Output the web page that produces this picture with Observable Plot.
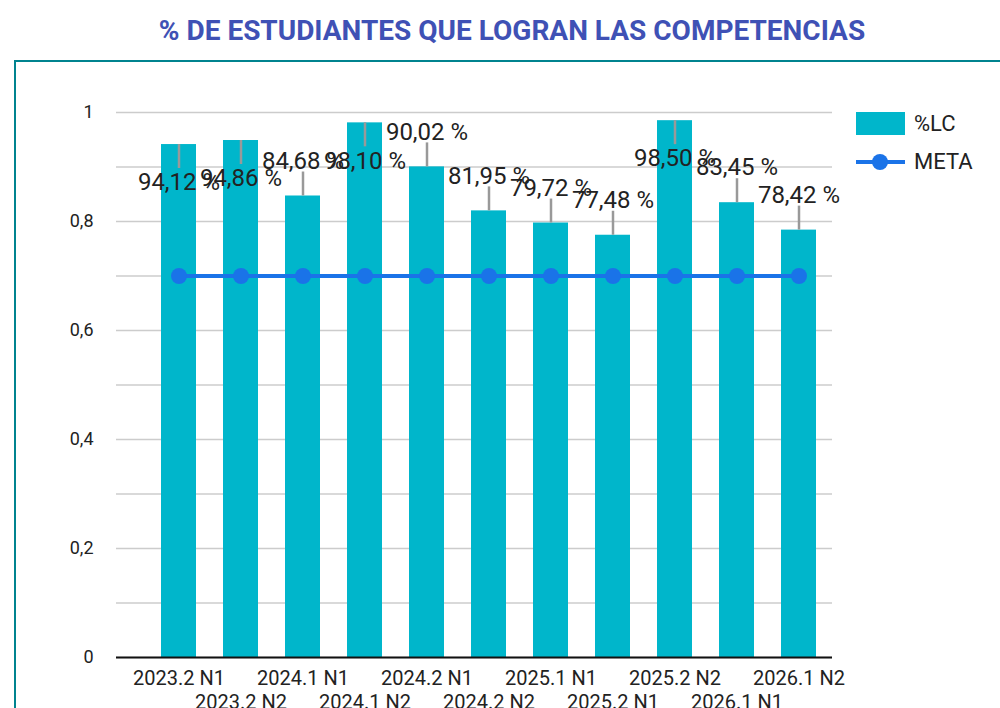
<!DOCTYPE html>
<html>
<head>
<meta charset="utf-8">
<script src="https://cdn.jsdelivr.net/npm/d3@7"></script>
<script src="https://cdn.jsdelivr.net/npm/@observablehq/plot@0.6"></script>
<style>
  html, body { margin: 0; padding: 0; background: #fff; overflow: hidden; }
  body { width: 1000px; height: 708px; position: relative; font-family: Roboto, "Noto Sans", sans-serif; }
  #title { position: absolute; left: 0; width: 1024px; top: 17px; text-align: center; font-weight: 700; font-size: 28px; line-height: 28px; color: #3f51b5; }
  #frame { position: absolute; left: 14px; top: 60px; width: 1100px; height: 800px; border-top: 2px solid #00838f; border-left: 2px solid #00838f; }
  #chart { position: absolute; left: 0; top: 60px; }
  .leg { position: absolute; font-size: 22px; line-height: 22px; color: #222; }
</style>
</head>
<body>
<div id="title">% DE ESTUDIANTES QUE LOGRAN LAS COMPETENCIAS</div>
<div id="frame"></div>
<div id="chart"></div>
<div style="position:absolute;left:856px;top:112px;width:49px;height:23px;background:#00b6cb;"></div>
<div class="leg" style="left:914px;top:113px;">%LC</div>
<div style="position:absolute;left:856px;top:160px;width:49px;height:4px;background:#1a73e8;"></div>
<div style="position:absolute;left:872px;top:154px;width:16px;height:16px;border-radius:50%;background:#1a73e8;"></div>
<div class="leg" style="left:914px;top:151px;">META</div>
<script>
const categories = ["2023.2 N1","2023.2 N2","2024.1 N1","2024.1 N2","2024.2 N1","2024.2 N2","2025.1 N1","2025.2 N1","2025.2 N2","2026.1 N1","2026.1 N2"];
const pctLC = [94.12, 94.86, 84.68, 98.10, 90.02, 81.95, 79.72, 77.48, 98.50, 83.45, 78.42];
const meta = [0.7, 0.7, 0.7, 0.7, 0.7, 0.7, 0.7, 0.7, 0.7, 0.7, 0.7];
const yTicks = [0, 0.2, 0.4, 0.6, 0.8, 1];
const gridTicks = [0, 0.1, 0.2, 0.3, 0.4, 0.5, 0.6, 0.7, 0.8, 0.9, 1];

const LEAD = 0.044;
const rows = categories.map((c, i) => {
  const v = pctLC[i] / 100;
  const down = v > 0.92;
  return {
    cat: c, v, meta: meta[i], i,
    y2: down ? v - LEAD : v + LEAD,
    down,
    label: pctLC[i].toFixed(2).replace(".", ",") + " %"
  };
});
const upRows = rows.filter(d => !d.down);
const downRows = rows.filter(d => d.down);
const row1 = categories.filter((c, i) => i % 2 === 0);
const row2 = categories.filter((c, i) => i % 2 === 1);

const chart = Plot.plot({
  width: 1000,
  height: 648,
  marginTop: 52,
  marginBottom: 51,
  marginLeft: 116,
  marginRight: 168,
  style: { fontFamily: "Roboto, sans-serif", color: "#222", overflow: "visible", background: "transparent" },
  x: { type: "band", domain: categories, paddingInner: 0.44, paddingOuter: 0.485, align: 0.74, axis: null },
  y: { domain: [0, 1], axis: null },
  marks: [
    Plot.ruleY(gridTicks, { stroke: "#cccccc", strokeWidth: 1.5 }),
    Plot.axisY(yTicks, { tickSize: 0, tickPadding: 23, fontSize: 18, fill: "#222", label: null,
      tickFormat: d => String(d).replace(".", ",") }),
    Plot.barY(rows, { x: "cat", y: "v", fill: "#00b6cb" }),
    Plot.ruleY([0], { stroke: "#111", strokeWidth: 2 }),
    Plot.ruleX(rows, { x: "cat", y1: "v", y2: "y2", stroke: "#999999", strokeWidth: 2.5 }),
    Plot.lineY(rows, { x: "cat", y: "meta", stroke: "#1a73e8", strokeWidth: 4 }),
    Plot.dot(rows, { x: "cat", y: "meta", r: 8, fill: "#1a73e8" }),
    Plot.text(upRows, { x: "cat", y: "y2", text: "label", dy: -11, fontSize: 24, fill: "#222", lineAnchor: "middle" }),
    Plot.text(downRows, { x: "cat", y: "y2", text: "label", dy: 14, fontSize: 24, fill: "#222", lineAnchor: "middle" }),
    Plot.text(row1, { x: d => d, text: d => d, frameAnchor: "bottom", dy: 21, fontSize: 20, fill: "#222", lineAnchor: "middle" }),
    Plot.text(row2, { x: d => d, text: d => d, frameAnchor: "bottom", dy: 45, fontSize: 20, fill: "#222", lineAnchor: "middle" })
  ]
});
document.getElementById("chart").appendChild(chart);
</script>
</body>
</html>
